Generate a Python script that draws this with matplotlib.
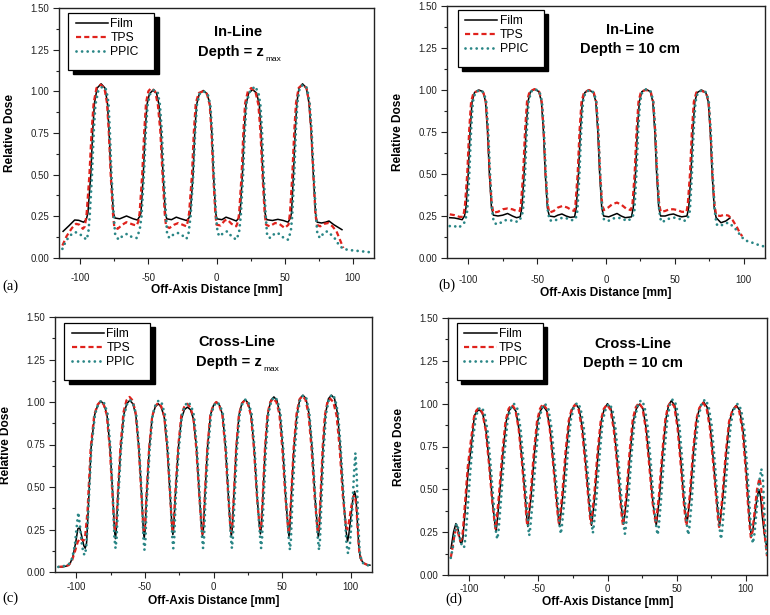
import matplotlib
matplotlib.use("Agg")
import matplotlib.pyplot as plt
import matplotlib.transforms as mtransforms
from matplotlib.ticker import MultipleLocator, FormatStrFormatter
from matplotlib.patches import Rectangle

plt.rcParams['font.family'] = ['Liberation Sans', 'DejaVu Sans']
plt.rcParams['axes.unicode_minus'] = False

series_names = ["Film", "TPS", "PPIC"]
x_ticks = [-100, -50, 0, 50, 100]
y_ticks = [0.00, 0.25, 0.50, 0.75, 1.00, 1.25, 1.50]

# ---------------- (a) In-Line, Depth = zmax ----------------
film_a = [(-112.5,0.16),(-108,0.195),(-104,0.228),(-101,0.226),(-97.5,0.215),(-95.5,0.23),
(-94.3,0.27),(-92.2,0.5),(-90.8,0.76),(-89.5,0.93),(-87.5,1.02),(-84.6,1.045),(-81.8,1.02),(-80.0,0.93),(-78.8,0.76),(-77.4,0.5),(-75.6,0.27),
(-74.5,0.24),(-71,0.235),(-66,0.252),(-61,0.235),(-58,0.228),(-56.3,0.25),
(-55.4,0.27),(-53.7,0.5),(-52.3,0.76),(-51.0,0.92),(-49.2,0.985),(-46.8,1.005),(-44.0,0.99),(-42.2,0.92),(-40.7,0.76),(-39.2,0.5),(-37.5,0.27),
(-36.5,0.235),(-33,0.23),(-29.5,0.245),(-26,0.235),(-22,0.225),(-20.2,0.24),
(-19.2,0.27),(-17.2,0.5),(-15.9,0.76),(-14.6,0.92),(-12.6,0.985),(-9.7,1.005),(-6.8,0.985),(-4.8,0.92),(-3.5,0.76),(-2.2,0.5),(-0.6,0.27),
(0.3,0.235),(4,0.23),(7,0.245),(10.5,0.235),(14.5,0.222),(16.4,0.24),
(17.3,0.27),(19.0,0.5),(20.3,0.76),(21.6,0.92),(23.6,0.99),(26.5,1.01),(29.4,0.99),(31.4,0.92),(32.7,0.76),(34.0,0.5),(35.6,0.27),
(36.8,0.23),(41,0.225),(45,0.232),(49,0.225),(52.5,0.215),(54.2,0.24),
(55.0,0.27),(56.4,0.5),(57.7,0.76),(58.9,0.93),(60.5,1.02),(63.1,1.045),(65.9,1.02),(67.8,0.93),(69.4,0.76),(71.0,0.5),(72.6,0.27),
(73.8,0.215),(77,0.21),(80,0.215),(82.5,0.222),(86,0.2),(89,0.185),(92,0.17)]

tps_a = [(-113,0.075),(-110,0.13),(-106,0.18),(-103,0.205),(-100.5,0.2),(-98,0.175),(-96.5,0.19),
(-95.2,0.27),(-93.2,0.5),(-91.6,0.76),(-90.1,0.93),(-88,1.02),(-85,1.04),(-82.2,1.02),(-80.3,0.93),(-79,0.76),(-77.6,0.5),(-76,0.27),
(-75,0.19),(-72.5,0.175),(-69,0.2),(-66,0.215),(-61,0.2),(-58.5,0.195),(-57.3,0.22),
(-56.4,0.27),(-54.5,0.5),(-53,0.76),(-51.7,0.93),(-50,1.0),(-48,1.02),(-45,1.0),(-43,0.92),(-41.2,0.76),(-39.6,0.5),(-38,0.27),
(-37,0.19),(-34.5,0.18),(-31,0.2),(-28,0.21),(-25,0.2),(-22,0.19),(-21,0.22),
(-20.1,0.27),(-18,0.5),(-16.6,0.76),(-15.2,0.93),(-13,0.99),(-10,1.0),(-7,0.985),(-5,0.92),(-3.7,0.76),(-2.4,0.5),(-0.9,0.27),
(0,0.2),(3,0.195),(6,0.225),(8,0.23),(11,0.205),(14.5,0.19),(15.8,0.22),
(16.6,0.27),(18.4,0.5),(19.7,0.76),(21,0.93),(23,1.0),(25.5,1.02),(28.5,1.0),(30.7,0.92),(32.2,0.76),(33.7,0.5),(35.3,0.27),
(36.3,0.2),(39,0.19),(43,0.21),(46,0.205),(50,0.18),(52.8,0.2),
(53.9,0.27),(55.6,0.5),(57,0.76),(58.3,0.93),(60.2,1.02),(63,1.04),(66,1.02),(68,0.93),(69.5,0.76),(71,0.5),(72.5,0.27),
(73.5,0.2),(76,0.19),(79,0.205),(82,0.21),(85,0.19),(88,0.16),(90.5,0.11),(93,0.06)]

ppic_a = [(-113,0.055),(-110.5,0.1),(-107.5,0.135),(-103.5,0.155),(-100.5,0.145),(-97.5,0.125),(-95.3,0.11),(-94,0.15),
(-93,0.25),(-91.3,0.5),(-90,0.76),(-88.8,0.92),(-86.8,1.0),(-83.5,1.03),(-80.8,1.01),(-79.2,0.93),(-78.2,0.76),(-77,0.5),(-75.3,0.25),
(-74.3,0.14),(-71.8,0.11),(-68.5,0.135),(-65.5,0.145),(-62,0.125),(-58.5,0.12),(-56.3,0.17),
(-55,0.25),(-53.2,0.5),(-51.8,0.76),(-50.5,0.92),(-48.5,0.99),(-45.5,1.01),(-43,0.99),(-41.5,0.92),(-40.1,0.76),(-38.7,0.5),(-37,0.25),
(-36.2,0.14),(-34.5,0.12),(-31,0.145),(-28,0.15),(-25,0.135),(-22,0.115),(-20.5,0.15),
(-19,0.25),(-17,0.5),(-15.6,0.76),(-14.3,0.92),(-12.3,0.985),(-9.5,1.0),(-6.5,0.985),(-4.5,0.92),(-3.2,0.76),(-1.9,0.5),(-0.3,0.25),
(0.8,0.15),(2.5,0.13),(5.5,0.155),(8,0.16),(11,0.13),(14.5,0.11),(16.5,0.15),
(17.8,0.25),(19.5,0.5),(20.8,0.76),(22,0.93),(24.5,1.0),(28.3,1.03),(30.8,0.99),(32.2,0.92),(33.4,0.76),(34.6,0.5),(36.1,0.25),
(37.2,0.13),(39.5,0.12),(43,0.15),(46,0.145),(50,0.115),(52.5,0.11),(54.5,0.16),
(55.5,0.25),(57,0.5),(58.2,0.76),(59.3,0.93),(61,1.02),(63.5,1.04),(66.4,1.02),(68.3,0.93),(69.8,0.76),(71.3,0.5),(73,0.25),
(74,0.14),(76,0.12),(79,0.155),(81.5,0.16),(84,0.14),(87,0.115),(90,0.075),(93,0.055),(97,0.048),(103,0.043),(109,0.038),(115,0.032)]

# ---------------- (b) In-Line, Depth = 10 cm ----------------
film_b = [(-113.5,0.24),(-110,0.238),(-106.5,0.232),(-104.5,0.228),(-102.8,0.25),
(-101.7,0.3),(-100.1,0.5),(-98.7,0.76),(-97.3,0.93),(-95.5,0.985),(-92.4,1.0),(-89.3,0.99),(-87.5,0.93),(-86.1,0.76),(-84.7,0.5),(-83.2,0.3),
(-81.8,0.255),(-78.5,0.25),(-75,0.255),(-71.5,0.265),(-68,0.25),(-65,0.24),(-62.3,0.245),
(-61.1,0.3),(-59.5,0.5),(-58.1,0.76),(-56.7,0.93),(-54.9,0.99),(-51.8,1.005),(-48.7,0.99),(-46.9,0.93),(-45.5,0.76),(-44.1,0.5),(-42.6,0.3),
(-41.2,0.25),(-37.5,0.245),(-35,0.255),(-32,0.262),(-29,0.25),(-26,0.242),(-22.8,0.245),
(-21.6,0.3),(-20.0,0.5),(-18.6,0.76),(-17.2,0.93),(-15.4,0.985),(-12.3,1.0),(-9.2,0.985),(-7.4,0.93),(-6.0,0.76),(-4.6,0.5),(-3.1,0.3),
(-1.7,0.25),(2,0.245),(5,0.255),(8,0.265),(11,0.25),(14,0.24),(18.5,0.245),
(19.8,0.3),(21.4,0.5),(22.8,0.76),(24.2,0.93),(26.0,0.99),(29.1,1.005),(32.2,0.99),(34.0,0.93),(35.4,0.76),(36.8,0.5),(38.3,0.3),
(39.7,0.25),(43,0.25),(46,0.258),(49,0.262),(52,0.252),(55,0.245),(58.8,0.25),
(60.1,0.3),(61.7,0.5),(63.1,0.76),(64.5,0.93),(66.3,0.985),(69.4,1.0),(72.5,0.985),(74.3,0.93),(75.7,0.76),(77.1,0.5),(78.6,0.3),
(80,0.24),(83.5,0.21),(87,0.22),(90,0.238)]

tps_b = [(-113.5,0.26),(-110,0.255),(-106.5,0.245),(-104,0.245),(-103.2,0.27),
(-102.4,0.32),(-100.8,0.5),(-99.4,0.76),(-98.0,0.93),(-96.2,0.985),(-92.6,0.995),(-89.1,0.985),(-87.3,0.93),(-85.9,0.76),(-84.5,0.5),(-83.0,0.32),
(-81.8,0.27),(-78.5,0.275),(-75,0.29),(-71.5,0.295),(-68,0.29),(-65,0.28),(-62.6,0.28),
(-61.8,0.32),(-60.2,0.5),(-58.8,0.76),(-57.4,0.93),(-55.6,0.99),(-52.0,1.005),(-48.5,0.99),(-46.7,0.93),(-45.3,0.76),(-43.9,0.5),(-42.4,0.32),
(-41.2,0.27),(-38,0.28),(-35,0.3),(-31.5,0.31),(-28,0.3),(-25,0.285),(-23,0.28),
(-22.2,0.32),(-20.6,0.5),(-19.2,0.76),(-17.8,0.93),(-16.0,0.985),(-12.4,1.0),(-8.9,0.985),(-7.1,0.93),(-5.7,0.76),(-4.3,0.5),(-2.8,0.32),
(-1.6,0.285),(1.5,0.3),(4.5,0.32),(8,0.33),(11.5,0.315),(14.5,0.295),(18,0.285),
(19.2,0.32),(20.8,0.5),(22.2,0.76),(23.6,0.93),(25.4,0.99),(29.0,1.0),(32.5,0.99),(34.3,0.93),(35.7,0.76),(37.1,0.5),(38.6,0.32),
(39.8,0.275),(43,0.28),(46,0.29),(49,0.29),(52,0.285),(55,0.275),(58.5,0.275),
(59.4,0.32),(61.0,0.5),(62.4,0.76),(63.8,0.93),(65.6,0.985),(69.2,0.995),(72.7,0.985),(74.5,0.93),(75.9,0.76),(77.3,0.5),(78.8,0.32),
(80,0.255),(83,0.25),(86,0.258),(89,0.252),(92,0.225),(95,0.185),(97.5,0.145),(99,0.13)]

ppic_b = [(-113.5,0.19),(-110,0.19),(-107.5,0.18),(-105.5,0.19),(-103,0.21),(-101.8,0.24),
(-100.8,0.28),(-99.3,0.5),(-98.0,0.76),(-96.7,0.93),(-95.0,0.985),(-92.0,1.0),(-88.8,0.985),(-87.0,0.93),(-85.6,0.76),(-84.2,0.5),(-82.7,0.28),
(-81.6,0.215),(-79.5,0.2),(-76.5,0.21),(-73,0.225),(-69.5,0.225),(-66,0.215),(-63,0.22),(-61.3,0.25),
(-60.3,0.28),(-58.8,0.5),(-57.5,0.76),(-56.2,0.93),(-54.5,0.99),(-51.5,1.005),(-48.3,0.99),(-46.5,0.93),(-45.1,0.76),(-43.7,0.5),(-42.2,0.28),
(-41,0.225),(-38.5,0.22),(-35,0.23),(-31.5,0.24),(-28,0.235),(-25,0.225),(-22.3,0.23),(-21.5,0.25),
(-20.8,0.28),(-19.3,0.5),(-18.0,0.76),(-16.7,0.93),(-15.0,0.985),(-12.0,1.0),(-8.8,0.985),(-7.0,0.93),(-5.6,0.76),(-4.2,0.5),(-2.7,0.28),
(-1.5,0.23),(1.5,0.22),(5,0.235),(8.5,0.24),(12,0.235),(15,0.22),(17.5,0.23),(19.5,0.25),
(20.6,0.28),(22.1,0.5),(23.4,0.76),(24.7,0.93),(26.4,0.99),(29.4,1.005),(32.6,0.99),(34.4,0.93),(35.8,0.76),(37.2,0.5),(38.7,0.28),
(40,0.215),(42.5,0.22),(46,0.235),(49.5,0.24),(53,0.235),(56,0.22),(58.5,0.225),(60,0.25),
(60.9,0.28),(62.4,0.5),(63.7,0.76),(65.0,0.93),(66.7,0.985),(69.7,1.0),(72.9,0.985),(74.7,0.93),(76.1,0.76),(77.5,0.5),(79.0,0.28),
(80.3,0.2),(83,0.19),(86,0.205),(89,0.21),(92,0.19),(95,0.165),(98,0.13),(101,0.105),(105,0.095),(110,0.08),(115,0.068)]

# ---------------- (c) Cross-Line, Depth = zmax ----------------
film_c = [(-113,0.03),(-110,0.03),(-107,0.035),(-104.5,0.05),(-102.5,0.09),(-100.5,0.17),(-98.8,0.255),(-97.5,0.26),(-96,0.21),(-94.5,0.155),(-93.5,0.14),(-92.5,0.17),
(-91.5,0.33),(-89.2,0.73),(-86.6,0.925),(-84.2,0.985),(-82,1.005),(-79.8,0.985),(-77.6,0.925),(-75.4,0.73),(-73.3,0.44),(-72.2,0.25),(-71.5,0.196),
(-70.9,0.24),(-69.7,0.44),(-67.6,0.73),(-65.4,0.925),(-63.2,0.99),(-61,1.01),(-58.8,0.99),(-56.6,0.925),(-54.4,0.73),(-52.3,0.44),(-51.1,0.24),(-50.5,0.2),
(-49.9,0.24),(-48.8,0.44),(-46.8,0.73),(-44.7,0.91),(-42.5,0.97),(-40.3,0.99),(-38.1,0.97),(-35.9,0.91),(-33.7,0.73),(-31.5,0.44),(-30.2,0.26),(-29.6,0.22),
(-29,0.26),(-27.9,0.44),(-25.6,0.73),(-23.4,0.9),(-21.2,0.955),(-19,0.97),(-16.8,0.955),(-14.6,0.9),(-12.4,0.73),(-10.2,0.44),(-8.6,0.25),(-8,0.214),
(-7.4,0.25),(-6.3,0.44),(-4.4,0.73),(-2.2,0.925),(0,0.98),(2.2,1.0),(4.4,0.98),(6.6,0.925),(8.8,0.73),(10.9,0.44),(12.4,0.25),(13,0.21),
(13.6,0.25),(14.8,0.44),(16.6,0.73),(18.6,0.925),(20.8,0.995),(23,1.014),(25.2,0.995),(27.4,0.925),(29.6,0.73),(31.8,0.44),(33.6,0.26),(34.2,0.224),
(34.8,0.26),(36,0.44),(37.7,0.73),(39.6,0.93),(41.8,1.01),(44,1.03),(46.2,1.01),(48.4,0.93),(50.5,0.73),(52.6,0.44),(54.4,0.25),(55,0.21),
(55.6,0.25),(56.7,0.44),(58.6,0.73),(60.8,0.93),(63,1.02),(65.2,1.04),(67.4,1.02),(69.6,0.93),(71.8,0.73),(74,0.44),(75.8,0.25),(76.4,0.206),
(77,0.25),(78.2,0.44),(79.8,0.73),(81.6,0.93),(83.8,1.02),(86,1.04),(88.2,1.02),(90.4,0.93),(92.4,0.73),(94.6,0.44),(96.8,0.23),(97.7,0.18),
(98.6,0.22),(100.2,0.33),(101.7,0.44),(102.8,0.474),(103.8,0.44),(104.8,0.3),(105.8,0.16),(107,0.08),(109,0.055),(111,0.045),(114,0.04)]

tps_c = [(-113,0.03),(-109,0.033),(-105.5,0.04),(-103,0.07),(-101,0.12),(-99,0.175),(-97.3,0.2),(-95.8,0.19),(-94.6,0.185),(-93.4,0.22),
(-91.8,0.36),(-89.5,0.73),(-86.9,0.925),(-84.4,0.985),(-82.2,1.005),(-80,0.985),(-77.8,0.925),(-75.6,0.73),(-73.6,0.45),(-72.4,0.28),(-71.6,0.245),
(-70.8,0.28),(-69.8,0.45),(-67.8,0.74),(-65.6,0.94),(-63.4,1.01),(-61.2,1.03),(-59,1.01),(-56.8,0.94),(-54.6,0.74),(-52.5,0.45),(-51.3,0.28),(-50.6,0.235),
(-49.9,0.27),(-48.9,0.45),(-46.9,0.73),(-44.7,0.915),(-42.5,0.975),(-40.3,0.995),(-38.1,0.975),(-35.9,0.915),(-33.7,0.73),(-31.6,0.45),(-30.4,0.28),(-29.7,0.245),
(-29,0.28),(-28,0.45),(-25.7,0.74),(-23.5,0.92),(-21.4,0.97),(-19.2,0.99),(-17,0.97),(-14.8,0.915),(-12.6,0.73),(-10.4,0.45),(-8.8,0.27),(-8.1,0.225),
(-7.4,0.27),(-6.4,0.45),(-4.5,0.73),(-2.3,0.925),(-0.2,0.98),(2,1.0),(4.2,0.98),(6.4,0.925),(8.6,0.73),(10.7,0.45),(12.2,0.27),(12.9,0.235),
(13.6,0.27),(14.8,0.45),(16.5,0.73),(18.5,0.925),(20.6,0.99),(22.8,1.01),(25,0.99),(27.2,0.925),(29.4,0.73),(31.6,0.45),(33.4,0.28),(34.1,0.25),
(34.8,0.28),(35.9,0.45),(37.5,0.73),(39.3,0.93),(41.4,1.0),(43.6,1.02),(45.8,1.0),(48,0.93),(50.1,0.73),(52.3,0.45),(54.1,0.28),(54.8,0.24),
(55.5,0.28),(56.6,0.45),(58.4,0.73),(60.5,0.93),(62.6,1.015),(64.8,1.035),(67,1.015),(69.2,0.93),(71.4,0.73),(73.6,0.45),(75.5,0.27),(76.2,0.23),
(76.9,0.27),(78,0.45),(79.5,0.73),(81.1,0.92),(83,1.0),(85,1.02),(87.3,1.0),(89.7,0.92),(91.9,0.73),(94.2,0.45),(96.4,0.28),(97.4,0.25),
(98.6,0.29),(100.3,0.38),(101.8,0.44),(102.9,0.45),(104,0.4),(105,0.26),(106.2,0.12),(107.8,0.07),(110,0.05),(112.5,0.04),(115,0.035)]

ppic_c = [(-113,0.03),(-109,0.035),(-105.5,0.045),(-103,0.08),(-101,0.16),(-99.5,0.28),(-98.5,0.35),(-97.3,0.27),(-96,0.17),(-94.8,0.11),(-93.8,0.1),(-92.8,0.14),
(-91.6,0.3),(-89,0.73),(-86.3,0.93),(-83.8,0.99),(-81.6,1.01),(-79.4,0.99),(-77.2,0.93),(-75,0.72),(-73.2,0.42),(-72.2,0.2),(-71.4,0.14),
(-70.6,0.2),(-69.5,0.42),(-67.4,0.72),(-65.1,0.925),(-62.9,0.99),(-60.7,1.01),(-58.5,0.99),(-56.3,0.925),(-54.1,0.72),(-52.1,0.42),(-51,0.19),(-50.3,0.13),
(-49.6,0.19),(-48.6,0.42),(-46.5,0.72),(-44.3,0.925),(-42,0.99),(-39.8,1.01),(-37.6,0.99),(-35.4,0.925),(-33.2,0.72),(-31.2,0.42),(-30,0.2),(-29.3,0.14),
(-28.6,0.2),(-27.6,0.42),(-25.3,0.72),(-23,0.92),(-20.8,0.98),(-18.6,1.0),(-16.4,0.98),(-14.2,0.92),(-12,0.72),(-9.9,0.42),(-8.3,0.2),(-7.6,0.14),
(-6.9,0.2),(-5.9,0.42),(-4,0.72),(-1.8,0.925),(0.4,0.98),(2.6,1.0),(4.8,0.98),(7,0.925),(9.2,0.72),(11.2,0.42),(12.7,0.2),(13.4,0.14),
(14.1,0.2),(15.3,0.42),(17.1,0.72),(19.1,0.93),(21.2,0.995),(23.4,1.015),(25.6,0.995),(27.8,0.93),(30,0.72),(32.1,0.42),(34,0.2),(34.7,0.14),
(35.4,0.2),(36.5,0.42),(38.2,0.72),(40,0.93),(42.2,1.01),(44.4,1.03),(46.6,1.01),(48.8,0.93),(50.9,0.72),(53,0.42),(54.9,0.19),(55.7,0.13),
(56.4,0.19),(57.5,0.42),(59.3,0.72),(61.3,0.93),(63.3,1.02),(65.5,1.04),(67.7,1.02),(69.9,0.93),(72.1,0.72),(74.3,0.42),(76.1,0.19),(76.9,0.13),
(77.6,0.19),(78.7,0.42),(80.3,0.72),(82,0.93),(84.2,1.02),(86.4,1.045),(88.6,1.02),(90.8,0.93),(92.8,0.72),(95,0.42),(97,0.16),(98,0.11),
(99.5,0.17),(101,0.35),(102.4,0.58),(103.4,0.7),(104.4,0.56),(105.4,0.3),(106.5,0.12),(108,0.06),(110,0.045),(112.5,0.04),(115,0.035)]

# ---------------- (d) Cross-Line, Depth = 10 cm ----------------
film_d = [(-113.3,0.156),(-111.5,0.25),(-109.8,0.3),(-108.3,0.27),(-106.5,0.19),(-105.6,0.185),(-104.8,0.21),
(-103,0.38),(-101,0.6),(-98.8,0.74),(-96.4,0.93),(-94.6,0.955),(-92.8,0.965),(-90.3,0.94),(-87.9,0.838),(-85.5,0.643),(-83.1,0.41),(-81.4,0.29),(-80.7,0.257),
(-80,0.3),(-78.3,0.45),(-75.8,0.70),(-73.4,0.895),(-71.2,0.96),(-68.8,0.984),(-66.3,0.955),(-63.9,0.84),(-61.5,0.64),(-59.2,0.42),(-58.3,0.32),(-57.7,0.283),
(-57,0.33),(-55.3,0.46),(-52.9,0.71),(-50.6,0.895),(-48.5,0.96),(-46.3,0.984),(-43.8,0.955),(-41.4,0.84),(-39,0.64),(-36.6,0.42),(-35.5,0.33),(-34.8,0.289),
(-34.1,0.33),(-32.4,0.46),(-30,0.71),(-27.7,0.9),(-25.5,0.97),(-23,0.998),(-20.5,0.97),(-18.1,0.85),(-15.7,0.645),(-13.3,0.42),(-12.3,0.33),(-11.6,0.29),
(-10.9,0.33),(-9.2,0.46),(-6.8,0.71),(-4.5,0.9),(-2.3,0.97),(0,1.0),(2.5,0.97),(4.9,0.85),(7.3,0.645),(9.7,0.42),(10.9,0.335),(11.6,0.296),
(12.3,0.335),(14,0.46),(16.4,0.71),(18.7,0.9),(20.9,0.97),(23.2,0.998),(25.7,0.97),(28.1,0.85),(30.5,0.645),(32.9,0.42),(34.5,0.33),(35.3,0.292),
(36,0.33),(37.7,0.46),(40.1,0.72),(42.3,0.91),(44.2,0.99),(46.2,1.017),(48.7,0.99),(51.1,0.86),(53.3,0.65),(55.4,0.43),(56.8,0.34),(57.5,0.302),
(58.2,0.34),(59.9,0.46),(62.3,0.72),(64.6,0.91),(66.9,0.98),(69.6,1.01),(72.1,0.98),(74.5,0.86),(76.9,0.65),(79.3,0.42),(80.5,0.33),(81.2,0.289),
(81.9,0.33),(83.6,0.46),(86,0.71),(88.4,0.9),(90.8,0.965),(93.3,0.99),(95.8,0.96),(98.2,0.84),(100.4,0.62),(102.3,0.38),(103.4,0.27),(104.1,0.234),
(105.2,0.26),(106.8,0.36),(108.4,0.46),(109.7,0.497),(110.8,0.46),(112,0.35),(113.5,0.24),(115.5,0.156)]

tps_d = [(-113.5,0.1),(-112,0.17),(-110.3,0.26),(-109.3,0.27),(-108,0.24),(-106.7,0.2),(-105.8,0.205),(-104.8,0.25),
(-103.2,0.42),(-101.2,0.63),(-99,0.78),(-96.7,0.92),(-95,0.96),(-93.2,0.975),(-90.7,0.95),(-88.3,0.85),(-85.9,0.655),(-83.5,0.43),(-81.8,0.31),(-81.1,0.27),
(-80.4,0.31),(-78.7,0.46),(-76.2,0.71),(-73.8,0.9),(-71.6,0.97),(-69.2,0.995),(-66.7,0.965),(-64.3,0.85),(-61.9,0.65),(-59.6,0.43),(-58.7,0.33),(-58.1,0.29),
(-57.4,0.34),(-55.7,0.47),(-53.3,0.72),(-51,0.9),(-48.9,0.97),(-46.7,1.0),(-44.2,0.97),(-41.8,0.85),(-39.4,0.65),(-37,0.43),(-35.9,0.34),(-35.2,0.3),
(-34.5,0.34),(-32.8,0.47),(-30.4,0.72),(-28.1,0.9),(-25.9,0.97),(-23.4,0.995),(-20.9,0.965),(-18.5,0.85),(-16.1,0.65),(-13.7,0.43),(-12.7,0.34),(-12,0.3),
(-11.3,0.34),(-9.6,0.47),(-7.2,0.72),(-4.9,0.9),(-2.7,0.97),(-0.4,0.995),(2.1,0.965),(4.5,0.85),(6.9,0.65),(9.3,0.43),(10.5,0.33),(11.2,0.29),
(11.9,0.34),(13.6,0.47),(16,0.72),(18.3,0.91),(20.5,0.98),(22.8,1.005),(25.3,0.975),(27.7,0.855),(30.1,0.65),(32.5,0.43),(34.1,0.34),(34.9,0.3),
(35.6,0.34),(37.3,0.47),(39.7,0.72),(41.9,0.91),(43.8,0.985),(45.8,1.01),(48.3,0.985),(50.7,0.86),(52.9,0.655),(55,0.44),(56.4,0.33),(57.1,0.29),
(57.8,0.33),(59.5,0.46),(61.9,0.72),(64.2,0.905),(66.5,0.975),(69.2,1.005),(71.7,0.975),(74.1,0.86),(76.5,0.655),(78.9,0.43),(80.1,0.32),(80.8,0.28),
(81.5,0.32),(83.2,0.46),(85.6,0.71),(88,0.895),(90.4,0.96),(92.9,0.985),(95.4,0.955),(97.8,0.84),(100,0.62),(101.9,0.39),(103,0.28),(103.8,0.22),
(104.9,0.25),(106.5,0.37),(108.3,0.5),(110,0.565),(111.2,0.52),(112.5,0.38),(114,0.22),(115.5,0.11)]

ppic_d = [(-113.5,0.1),(-112,0.16),(-110.5,0.25),(-109.3,0.3),(-108,0.27),(-106.5,0.2),(-105,0.16),(-103.8,0.165),(-102.8,0.22),
(-101.3,0.38),(-99.4,0.6),(-97.3,0.8),(-95.3,0.925),(-93.6,0.965),(-91.8,0.98),(-89.3,0.955),(-86.9,0.845),(-84.5,0.63),(-82.1,0.38),(-80.6,0.24),(-79.8,0.21),
(-79,0.25),(-77.3,0.42),(-74.8,0.69),(-72.4,0.9),(-70.2,0.97),(-67.8,1.0),(-65.3,0.97),(-62.9,0.85),(-60.5,0.63),(-58.2,0.39),(-57.3,0.27),(-56.7,0.23),
(-56,0.27),(-54.3,0.42),(-51.9,0.69),(-49.6,0.9),(-47.5,0.975),(-45.3,1.0),(-42.8,0.97),(-40.4,0.85),(-38,0.63),(-35.6,0.39),(-34.5,0.28),(-33.8,0.24),
(-33.1,0.28),(-31.4,0.42),(-29,0.69),(-26.7,0.9),(-24.5,0.975),(-22,1.005),(-19.5,0.975),(-17.1,0.855),(-14.7,0.64),(-12.3,0.39),(-11.3,0.29),(-10.6,0.245),
(-9.9,0.29),(-8.2,0.43),(-5.8,0.69),(-3.5,0.9),(-1.3,0.97),(1,1.0),(3.5,0.97),(5.9,0.85),(8.3,0.63),(10.7,0.39),(11.9,0.28),(12.6,0.24),
(13.3,0.28),(15,0.43),(17.4,0.7),(19.7,0.91),(21.9,0.99),(24.2,1.02),(26.7,0.99),(29.1,0.865),(31.5,0.64),(33.9,0.39),(35.5,0.27),(36.3,0.235),
(37,0.27),(38.7,0.43),(41.1,0.7),(43.3,0.91),(45.2,0.995),(47.2,1.025),(49.7,0.995),(52.1,0.87),(54.3,0.65),(56.4,0.4),(57.8,0.27),(58.5,0.235),
(59.2,0.27),(60.9,0.42),(63.3,0.7),(65.6,0.91),(67.9,0.995),(70.6,1.025),(73.1,0.99),(75.5,0.87),(77.9,0.64),(80.3,0.37),(81.5,0.25),(82.2,0.21),
(82.9,0.25),(84.6,0.41),(87,0.68),(89.4,0.89),(91.8,0.97),(94.3,1.0),(96.8,0.965),(99.2,0.84),(101.4,0.6),(103.3,0.34),(104.4,0.22),(105.3,0.185),
(106.4,0.24),(108,0.38),(109.8,0.54),(111.4,0.62),(112.6,0.55),(113.7,0.35),(114.6,0.2),(115.5,0.12)]

RED = '#e0221c'
TEAL = '#2a8686'
W, H = 770, 615

panels = [
    dict(px=(59, 8, 374, 258), data=(film_a, tps_a, ppic_a), t1='In-Line', t2='Depth = z', sub='max',
         tx=0.57, ty1=0.903, ty2=0.823, xpad=7.0, xlab_top=26, lab='(a)', labpos=(2, 286), leg=(9, 5)),
    dict(px=(447, 6, 765, 258), data=(film_b, tps_b, ppic_b), t1='In-Line', t2='Depth = 10 cm', sub=None,
         tx=0.576, ty1=0.905, ty2=0.83, xpad=8.5, xlab_top=29, lab='(b)', labpos=(438, 285), leg=(10.5, 4)),
    dict(px=(55, 317, 372, 572), data=(film_c, tps_c, ppic_c), t1='Cross-Line', t2='Depth = z', sub='max',
         tx=0.574, ty1=0.9, ty2=0.822, xpad=3.0, xlab_top=23, lab='(c)', labpos=(2, 598), leg=(9, 6)),
    dict(px=(448, 318, 767, 575), data=(film_d, tps_d, ppic_d), t1='Cross-Line', t2='Depth = 10 cm', sub=None,
         tx=0.58, ty1=0.9, ty2=0.824, xpad=2.6, xlab_top=21, lab='(d)', labpos=(445, 599), leg=(8.7, 5)),
]

fig = plt.figure(figsize=(W / 100, H / 100), dpi=100)

for p in panels:
    l, t, r, b = p['px']
    wpx, hpx = r - l, b - t
    ax = fig.add_axes([l / W, 1 - b / H, wpx / W, hpx / H])
    film, tps, ppic = p['data']
    ax.plot([q[0] for q in film], [q[1] for q in film], color='black', lw=1.1,
            label=series_names[0], zorder=3)
    ax.plot([q[0] for q in tps], [q[1] for q in tps], color=RED, lw=1.6,
            ls=(0, (2.3, 1.4)), label=series_names[1], zorder=4)
    ax.plot([q[0] for q in ppic], [q[1] for q in ppic], color=TEAL, lw=2.0,
            ls=(0, (0.01, 2.0)), dash_capstyle='round', label=series_names[2], zorder=5)
    ax.set_xlim(-115.5, 115.5)
    ax.set_ylim(0, 1.5)
    ax.set_xticks(x_ticks)
    ax.set_yticks(y_ticks)
    ax.xaxis.set_minor_locator(MultipleLocator(25))
    ax.yaxis.set_minor_locator(MultipleLocator(0.125))
    ax.yaxis.set_major_formatter(FormatStrFormatter('%.2f'))
    ax.tick_params(which='both', direction='out', top=False, right=False,
                   labelsize=7, width=0.8, colors='#222222')
    ax.tick_params(which='major', length=4)
    ax.tick_params(which='minor', length=2.5)
    ax.tick_params(axis='x', pad=p['xpad'])
    ax.tick_params(axis='y', pad=3)
    for s in ax.spines.values():
        s.set_linewidth(1.0)
        s.set_color('#222222')
    ax.set_xlabel('Off-Axis Distance [mm]', fontsize=8.6, fontweight='bold')
    ax.xaxis.set_label_coords(0.5, -p['xlab_top'] / hpx)
    ax.set_ylabel('Relative Dose', fontsize=8.6, fontweight='bold')
    ax.yaxis.set_label_coords(-43.0 / wpx, 0.5)

    # legend box with black shadow
    bl, bt = p['leg']
    bw, bh = 86, 57
    shadow = Rectangle(((bl + 4.5) / wpx, 1 - (bt + bh + 4) / hpx), bw / wpx, bh / hpx,
                       transform=ax.transAxes, facecolor='black', edgecolor='black',
                       zorder=8)
    box = Rectangle((bl / wpx, 1 - (bt + bh) / hpx), bw / wpx, bh / hpx,
                    transform=ax.transAxes, facecolor='white', edgecolor='black',
                    lw=0.9, zorder=9)
    ax.add_patch(shadow)
    ax.add_patch(box)
    leg = ax.legend(loc='upper left', bbox_to_anchor=((bl + 7.7) / wpx, 1 - (bt + 5) / hpx),
                    bbox_transform=ax.transAxes, borderaxespad=0, borderpad=0,
                    frameon=False, fontsize=8.7, handlelength=2.67, handletextpad=0.2,
                    labelspacing=0.16)
    leg.set_zorder(10)

    # title texts
    ax.text(p['tx'], p['ty1'], p['t1'], transform=ax.transAxes, ha='center', va='center',
            fontsize=10.5, fontweight='bold', zorder=10)
    if p['sub']:
        trans = mtransforms.offset_copy(ax.transAxes, fig=fig, x=-8, y=0, units='dots')
        tt = ax.text(p['tx'], p['ty2'], p['t2'], transform=trans, ha='center', va='center',
                     fontsize=10.5, fontweight='bold', zorder=10)
        ax.annotate(p['sub'], xy=(1, 0), xycoords=tt, xytext=(1.2, -1.4),
                    textcoords='offset points', fontsize=6, ha='left', va='baseline')
    else:
        ax.text(p['tx'], p['ty2'], p['t2'], transform=ax.transAxes, ha='center', va='center',
                fontsize=10.5, fontweight='bold', zorder=10)

    fig.text(p['labpos'][0] / W, 1 - p['labpos'][1] / H, p['lab'],
             family=['Liberation Serif', 'DejaVu Serif'], fontsize=10.5, ha='left', va='center')

fig.savefig('out.png', dpi=100)
